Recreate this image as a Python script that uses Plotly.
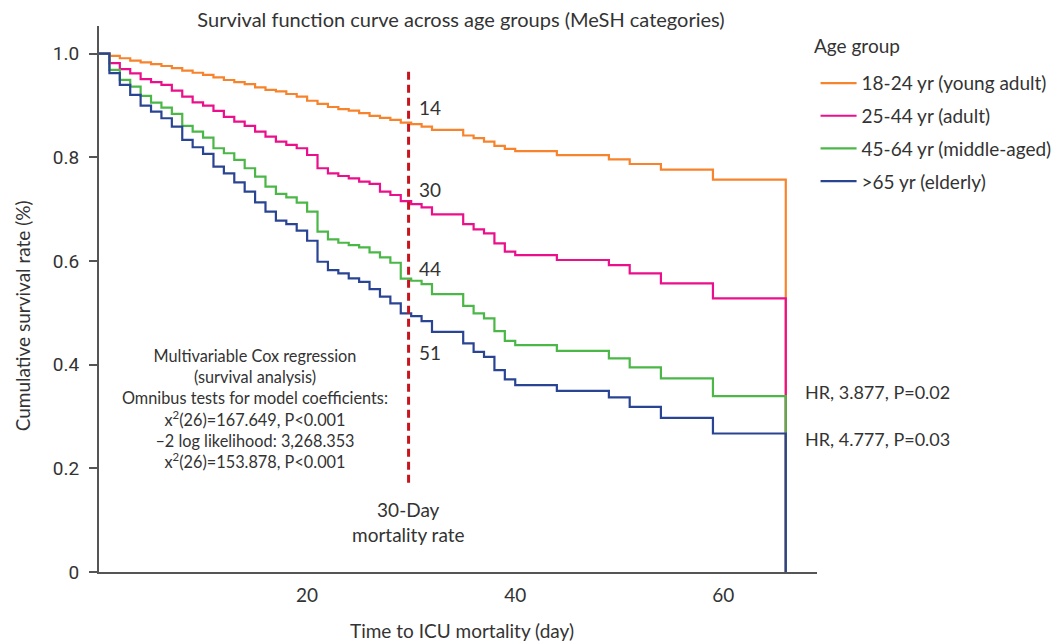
import plotly.graph_objects as go

# ---------------- data ----------------
days = [0, 1, 2, 3, 4, 5, 6, 7, 8, 9, 10, 11, 12, 13, 14, 15, 16, 17, 18, 19,
        20, 21, 22, 23, 24, 25, 26, 27, 28, 29, 30, 31, 32, 35, 36, 37, 38, 39,
        40, 44, 49, 51, 54, 59, 66]

young_adult = [1.000, 0.9955, 0.991, 0.9865, 0.983, 0.9795, 0.976, 0.972, 0.967, 0.963,
               0.959, 0.954, 0.949, 0.945, 0.941, 0.935, 0.930, 0.927, 0.922, 0.917,
               0.909, 0.903, 0.897, 0.893, 0.890, 0.885, 0.880, 0.876, 0.872, 0.867,
               0.864, 0.859, 0.853, 0.842, 0.837, 0.830, 0.822, 0.816,
               0.812, 0.804, 0.796, 0.787, 0.776, 0.757, 0.0]

adult = [1.000, 0.9815, 0.970, 0.962, 0.9506, 0.9448, 0.9396, 0.9286, 0.917, 0.906,
         0.8996, 0.8894, 0.878, 0.8687, 0.8604, 0.8494, 0.8398, 0.830, 0.8238, 0.8174,
         0.8044, 0.7788, 0.769, 0.7639, 0.7594, 0.7529, 0.7485, 0.7336, 0.7272, 0.7153,
         0.7098, 0.7034, 0.6899, 0.6712, 0.6609, 0.6532, 0.6339, 0.6178,
         0.6114, 0.6018, 0.5921, 0.576, 0.5567, 0.5277, 0.0]

middle_aged = [1.000, 0.9685, 0.9492, 0.9363, 0.9184, 0.9054, 0.8958, 0.8836, 0.8604, 0.8494,
               0.8378, 0.8174, 0.8077, 0.7948, 0.7788, 0.7625, 0.7432, 0.7292, 0.7227, 0.7124,
               0.695, 0.6564, 0.6416, 0.6351, 0.6306, 0.6261, 0.6165, 0.6068, 0.5965, 0.5658,
               0.5618, 0.5554, 0.5361, 0.5135, 0.4988, 0.4892, 0.4647, 0.4459,
               0.4376, 0.4266, 0.412, 0.3946, 0.3733, 0.3392, 0.0]

elderly = [1.000, 0.9622, 0.9396, 0.9203, 0.8996, 0.888, 0.8753, 0.8591, 0.8334, 0.8193,
           0.8064, 0.7819, 0.7691, 0.7517, 0.7336, 0.713, 0.695, 0.6776, 0.6712, 0.6583,
           0.639, 0.5985, 0.5824, 0.576, 0.5664, 0.5598, 0.5457, 0.531, 0.5181, 0.4988,
           0.4936, 0.4839, 0.4633, 0.4409, 0.4247, 0.4151, 0.3894, 0.3714,
           0.3604, 0.3494, 0.3367, 0.3185, 0.2973, 0.2672, 0.0]

series_names = ["18-24 yr (young adult)", "25-44 yr (adult)",
                "45-64 yr (middle-aged)", ">65 yr (elderly)"]
series_values = [young_adult, adult, middle_aged, elderly]
series_colors = ["#F7842C", "#EC0F8C", "#4BB747", "#2A4494"]

deaths_at_30 = ["14", "30", "44", "51"]
hr_labels = ["HR, 3.877, P=0.02", "HR, 4.777, P=0.03"]

cutoff_day = [29.75, 29.75]
cutoff_span = [0.965, 0.163]

x_ticks = [20, 40, 60]
y_ticks = [0, 0.2, 0.4, 0.6, 0.8, 1.0]
y_tick_text = ["0", "0.2", "0.4", "0.6", "0.8", "1.0"]

TXT = "#333333"
FONT = "Lato"

fig = go.Figure()

for i, (name, vals, col) in enumerate(zip(series_names, series_values, series_colors)):
    fig.add_trace(go.Scatter(
        x=days, y=vals, mode="lines", name=name,
        line=dict(color=col, width=2.2, shape="hv"),
        legendgroup=f"g{i}", cliponaxis=False,
    ))

fig.add_trace(go.Scatter(
    x=cutoff_day, y=cutoff_span, mode="lines", showlegend=False,
    line=dict(color="#C8151D", width=3, dash="8px,5px"),
))

ann = []
label_y = [0.896, 0.737, 0.586, 0.424]
for txt, yy in zip(deaths_at_30, label_y):
    ann.append(dict(x=30.6, y=yy, xref="x", yref="y", text=txt, showarrow=False,
                    xanchor="left", yanchor="middle",
                    font=dict(family=FONT, size=19, color=TXT)))

for txt, yy in zip(hr_labels, [0.347, 0.256]):
    ann.append(dict(x=67.7, y=yy, xref="x", yref="y", text=txt, showarrow=False,
                    xanchor="left", yanchor="middle",
                    font=dict(family=FONT, size=18, color=TXT)))

cox_text = ("Multivariable Cox regression<br>(survival analysis)<br>"
            "Omnibus tests for model coefficients:<br>"
            "x<sup>2</sup>(26)=167.649, P&lt;0.001<br>"
            "\u20132 log likelihood: 3,268.353<br>"
            "x<sup>2</sup>(26)=153.878, P&lt;0.001")
ann.append(dict(x=15.0, y=0.316, xref="x", yref="y", text=cox_text, showarrow=False,
                xanchor="center", yanchor="middle", align="center",
                font=dict(family=FONT, size=16.3, color=TXT)))

ann.append(dict(x=29.75, y=0.0974, xref="x", yref="y", text="30-Day<br>mortality rate",
                showarrow=False, xanchor="center", yanchor="middle", align="center",
                font=dict(family=FONT, size=19, color=TXT)))

# axis titles
ann.append(dict(x=-0.1073, y=0.47, xref="paper", yref="paper",
                text="Cumulative survival rate (%)", textangle=-90, showarrow=False,
                xanchor="center", yanchor="middle",
                font=dict(family=FONT, size=19, color=TXT)))
ann.append(dict(x=0.506, y=-0.108, xref="paper", yref="paper",
                text="Time to ICU mortality (day)", showarrow=False,
                xanchor="center", yanchor="middle",
                font=dict(family=FONT, size=19, color=TXT)))

# legend heading
ann.append(dict(x=0.9936, y=0.9652, xref="paper", yref="paper",
                text="Age group", showarrow=False,
                xanchor="left", yanchor="middle",
                font=dict(family=FONT, size=19, color=TXT)))

# The page body has an 8 px margin, so the figure is 8 px smaller and shifted.
W, H = 1052, 634
fig.update_layout(
    width=W, height=H,
    margin=dict(l=91, r=243, t=18, b=70, autoexpand=False),
    paper_bgcolor="white", plot_bgcolor="white",
    title=dict(text="Survival function curve across age groups (MeSH categories)",
               x=453 / W, xanchor="center", y=1 - 12 / H, yanchor="middle",
               font=dict(family=FONT, size=20, color=TXT)),
    annotations=ann,
    showlegend=True,
    legend=dict(
        x=0.998, xanchor="left", y=0.930, yanchor="top",
        font=dict(family=FONT, size=19, color=TXT),
        tracegroupgap=5, itemwidth=36, bgcolor="rgba(0,0,0,0)",
    ),
    xaxis=dict(range=[0, 69], showgrid=False, zeroline=False, showline=True,
               linecolor="#555555", linewidth=2, tickvals=x_ticks, ticks="",
               ticklabelstandoff=5,
               tickfont=dict(family=FONT, size=19, color=TXT)),
    yaxis=dict(range=[0, 1.0532], showgrid=False, zeroline=False, showline=True,
               linecolor="#555555", linewidth=2, tickvals=y_ticks, ticktext=y_tick_text,
               ticks="outside", ticklen=8, tickwidth=1.5, tickcolor="#555555",
               ticklabelstandoff=6,
               tickfont=dict(family="Roboto", size=19, color=TXT)),
)

fig.write_html("out.html")
